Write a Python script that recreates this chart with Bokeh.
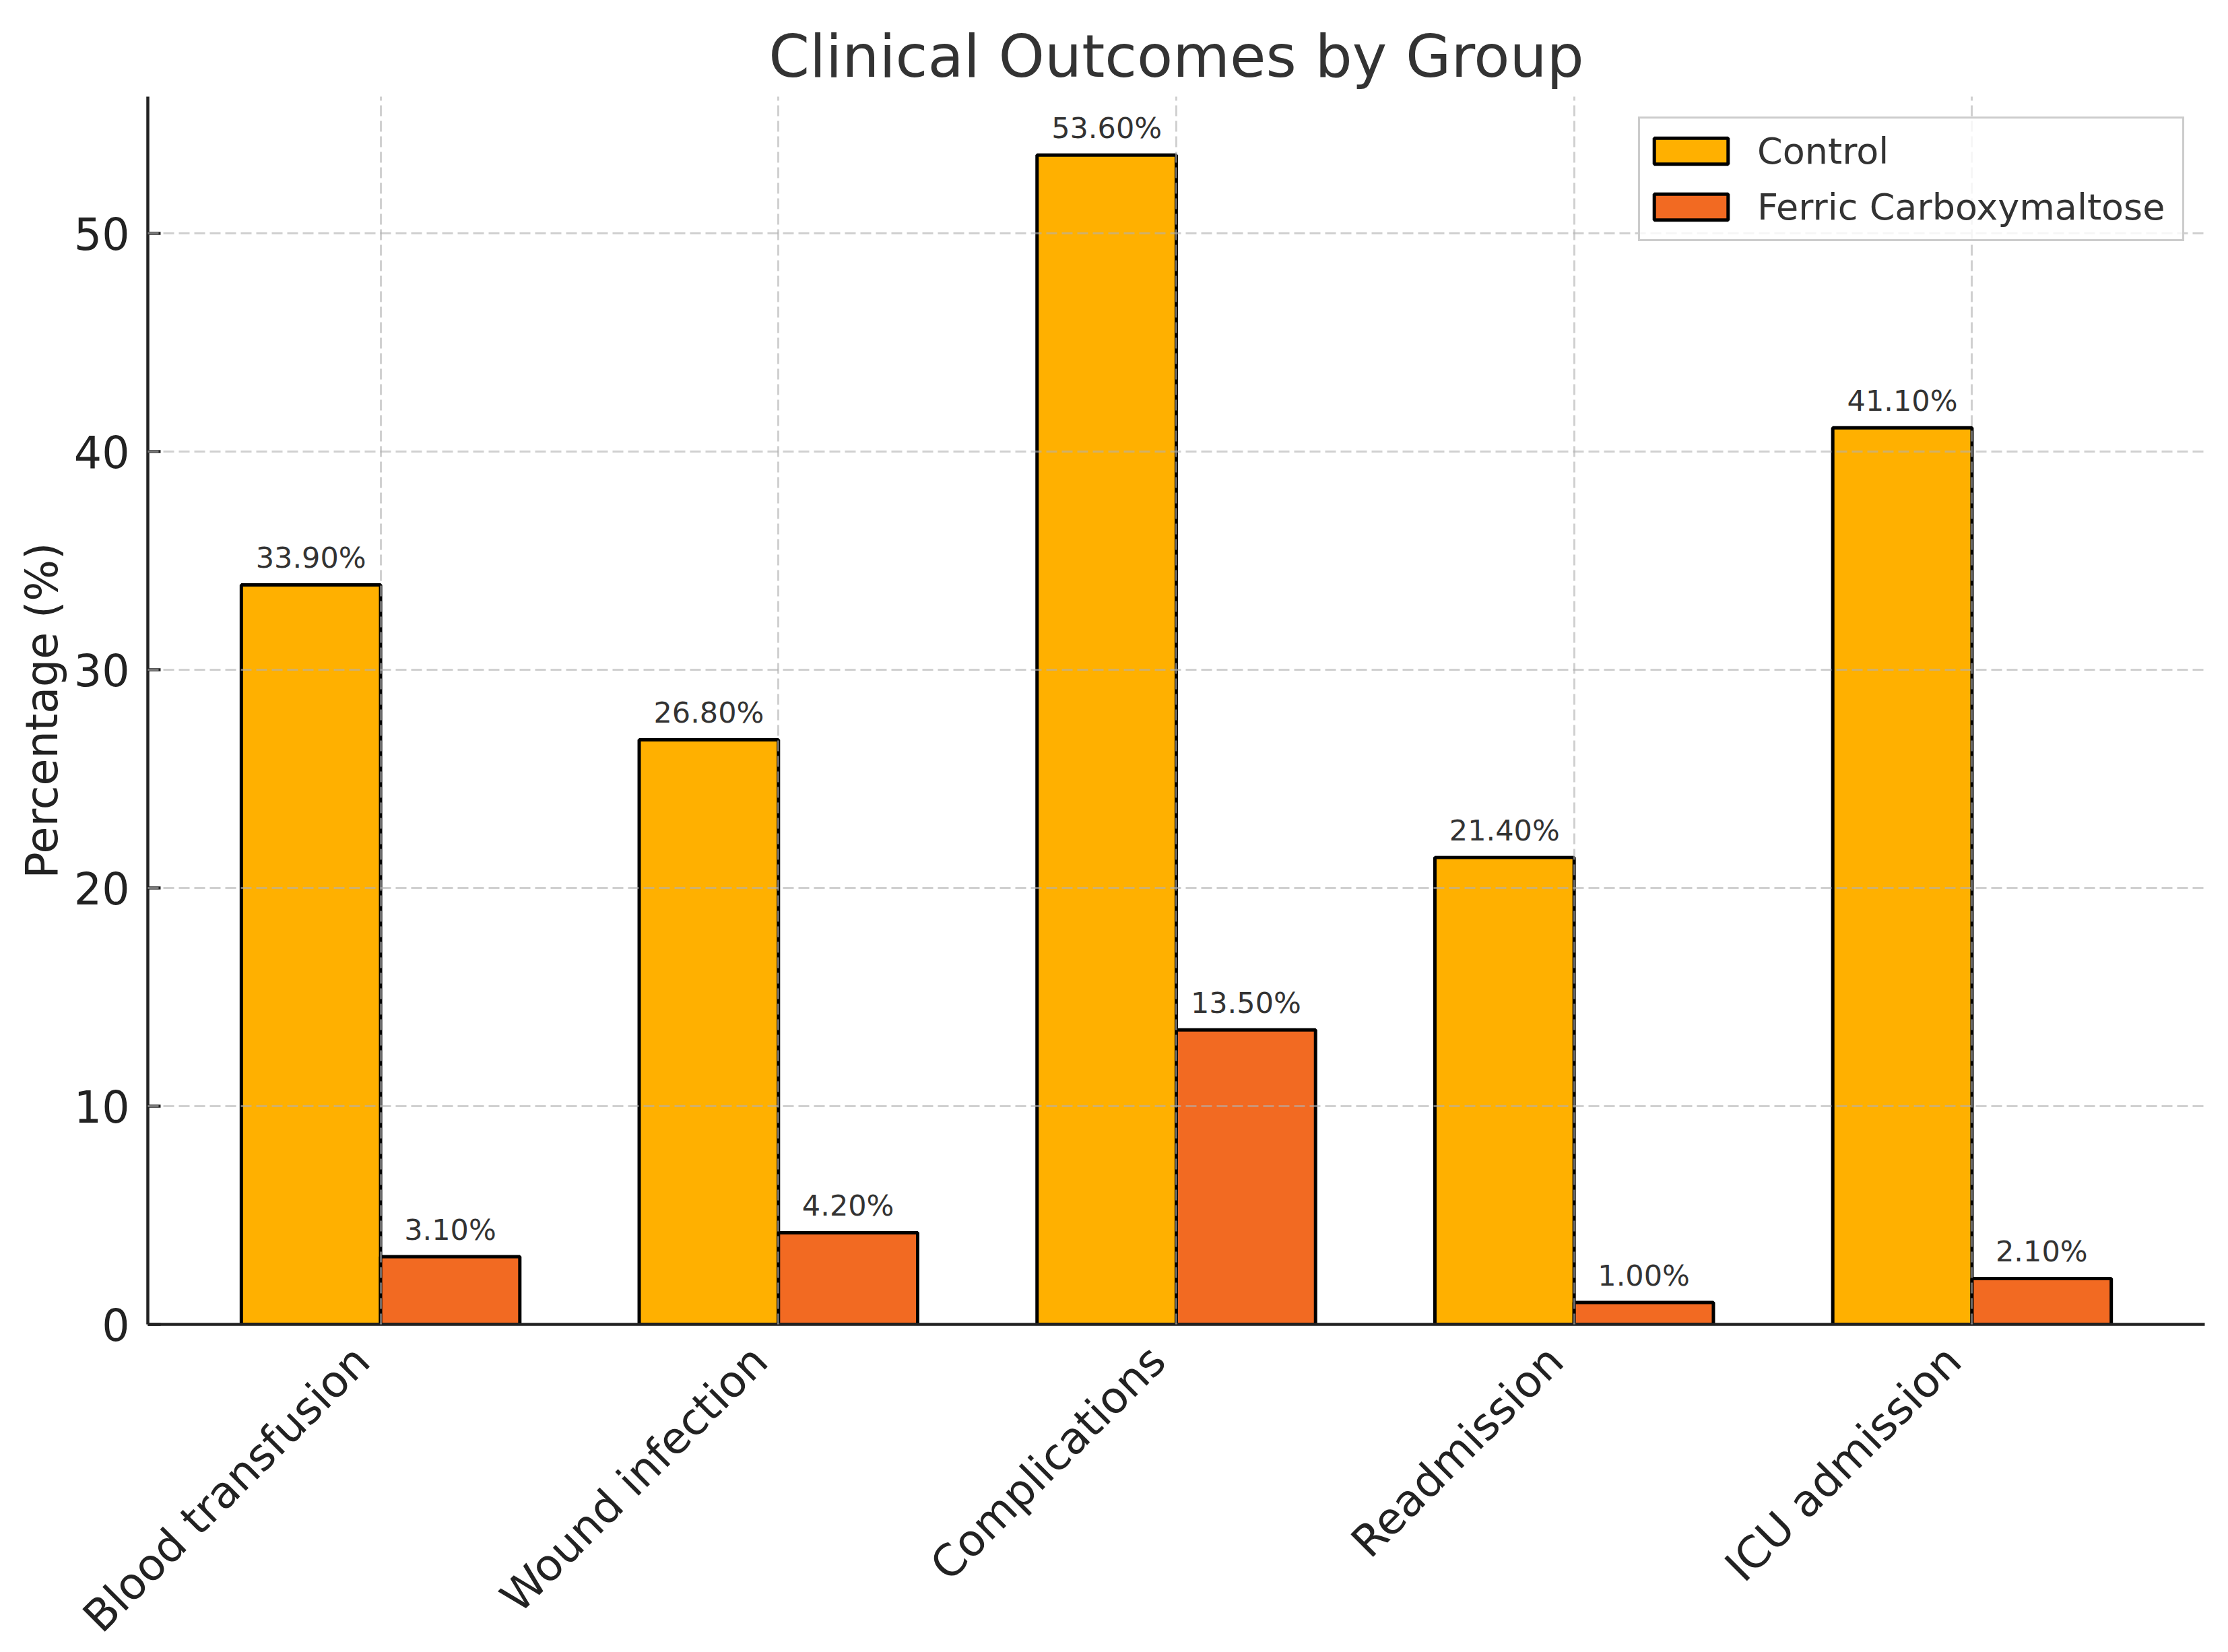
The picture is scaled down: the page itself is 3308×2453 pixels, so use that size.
import math
from bokeh.plotting import figure
from bokeh.models import Range1d, FixedTicker, Legend, LegendItem, LinearAxis
from bokeh.core.properties import value
from bokeh.embed import file_html
from bokeh.resources import INLINE

# ---- data ----
categories = ["Blood transfusion", "Wound infection", "Complications", "Readmission", "ICU admission"]
control = [33.9, 26.8, 53.6, 21.4, 41.1]
ferric = [3.1, 4.2, 13.5, 1.0, 2.1]
series_names = ["Control", "Ferric Carboxymaltose"]
y_ticks = [0, 10, 20, 30, 40, 50]

# ---- style ----
FONT = "DejaVu Sans"
colors = ["#FFB000", "#F26A22"]
bar_w = 0.35
idx = list(range(len(categories)))
FRAME_W = 3054
x_lo, x_hi = -0.585, len(categories) - 1 + 0.585

p = figure(
    frame_width=FRAME_W, frame_height=1823,
    x_range=Range1d(x_lo, x_hi),
    y_range=Range1d(0, max(control) * 1.05),
    output_backend="svg", toolbar_location=None,
    min_border_left=219, min_border_top=143, min_border_right=20, min_border_bottom=20,
)
p.outline_line_color = None
p.background_fill_color = "white"
p.border_fill_color = "white"

# title
p.title.text = "Clinical Outcomes by Group"
p.title.align = "center"
p.title.text_font = FONT
p.title.text_font_size = "87px"
p.title.text_font_style = "normal"
p.title.text_color = "#333333"
p.title.standoff = 18

# bars
r1 = p.vbar(x=[i - bar_w / 2 for i in idx], top=control, width=bar_w, bottom=0,
            fill_color=colors[0], line_color="black", line_width=5)
r2 = p.vbar(x=[i + bar_w / 2 for i in idx], top=ferric, width=bar_w, bottom=0,
            fill_color=colors[1], line_color="black", line_width=5)

# value labels
for xs, vals in (([i - bar_w / 2 for i in idx], control), ([i + bar_w / 2 for i in idx], ferric)):
    p.text(x=xs, y=vals, text=[f"{v:.2f}%" for v in vals],
           text_align="center", text_baseline="alphabetic", y_offset=-40,
           text_font=value(FONT), text_font_size="43px", text_color="#333333")

# hide default x axis; use a label axis on a slightly shifted range so that the
# rotated labels end a little left of each tick (matplotlib ha="right" look)
p.xaxis.visible = False
shift = 28 * (x_hi - x_lo) / FRAME_W
p.extra_x_ranges = {"lab": Range1d(x_lo + shift, x_hi + shift)}
xa = LinearAxis(x_range_name="lab", ticker=FixedTicker(ticks=idx))
xa.major_label_overrides = {i: c for i, c in enumerate(categories)}
xa.major_label_orientation = math.pi / 4
xa.major_label_standoff = 43
xa.major_tick_in = 0
xa.major_tick_out = 0
xa.major_tick_line_color = None
xa.minor_tick_line_color = None
xa.major_label_text_font = FONT
xa.major_label_text_font_size = "65px"
xa.major_label_text_color = "#222222"
xa.axis_line_color = "#222222"
xa.axis_line_width = 4.5
p.add_layout(xa, "below")

ya = p.yaxis[0]
ya.ticker = FixedTicker(ticks=y_ticks)
ya.axis_label = "Percentage (%)"
ya.axis_label_text_font = FONT
ya.axis_label_text_font_size = "65px"
ya.axis_label_text_font_style = "normal"
ya.axis_label_text_color = "#222222"
ya.axis_label_standoff = 7
ya.major_label_standoff = 27
ya.major_label_text_font = FONT
ya.major_label_text_font_size = "65px"
ya.major_label_text_color = "#222222"
ya.axis_line_color = "#222222"
ya.axis_line_width = 4.5
ya.major_tick_line_color = "#222222"
ya.major_tick_line_width = 4.5
ya.major_tick_in = 19
ya.major_tick_out = 0
ya.minor_tick_line_color = None

# grid (drawn over bars, like the reference)
p.xgrid.ticker = FixedTicker(ticks=idx)
p.ygrid.ticker = FixedTicker(ticks=y_ticks)
for g in (p.xgrid, p.ygrid):
    g.grid_line_color = "#b0b0b0"
    g.grid_line_alpha = 0.6
    g.grid_line_dash = "16 7"
    g.grid_line_width = 3
    g.level = "guide"

# legend
legend = Legend(
    items=[LegendItem(label=series_names[0], renderers=[r1]),
           LegendItem(label=series_names[1], renderers=[r2])],
    location="top_right", margin=30,
    label_text_font=FONT, label_text_font_size="54px", label_text_color="#333333",
    glyph_width=137, glyph_height=48, label_standoff=30,
    label_height=82, label_width=624,
    padding=7, spacing=1,
    border_line_color="#cccccc", border_line_width=3, border_line_alpha=1.0,
    background_fill_color="white", background_fill_alpha=0.8,
)
p.add_layout(legend)

open("out.html", "w").write(file_html(p, INLINE))
